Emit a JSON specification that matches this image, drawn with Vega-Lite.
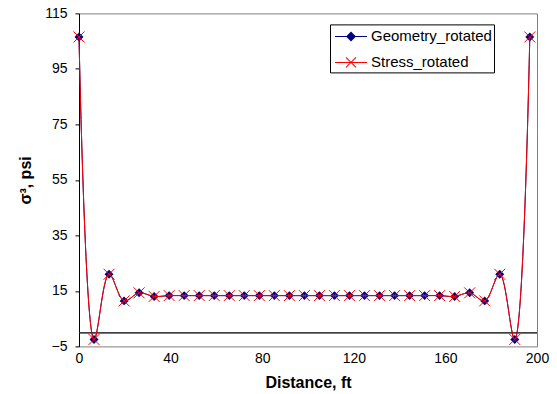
{
  "$schema": "https://vega.github.io/schema/vega-lite/v6.json",
  "width": 458,
  "height": 333,
  "autosize": "none",
  "padding": {"left": 79, "top": 13.4, "right": 20, "bottom": 47.6},
  "background": "white",
  "config": {
    "view": {"stroke": "#808080", "strokeWidth": 1},
    "font": "Liberation Sans",
    "axis": {"grid": false, "labelFont": "Liberation Sans", "labelFontSize": 14, "labelColor": "black", "titleFont": "Liberation Sans", "titleFontSize": 16, "titleFontWeight": "bold", "titleColor": "black", "domainColor": "black", "tickColor": "black"}
  },
  "data": {
    "values": [
      {"d": 0, "series": "Geometry_rotated", "v": 106.5},
      {"d": 6.56, "series": "Geometry_rotated", "v": -2.5},
      {"d": 13.12, "series": "Geometry_rotated", "v": 21.0},
      {"d": 19.69, "series": "Geometry_rotated", "v": 11.4},
      {"d": 26.25, "series": "Geometry_rotated", "v": 14.3},
      {"d": 32.81, "series": "Geometry_rotated", "v": 13.0},
      {"d": 39.37, "series": "Geometry_rotated", "v": 13.3},
      {"d": 45.93, "series": "Geometry_rotated", "v": 13.3},
      {"d": 52.49, "series": "Geometry_rotated", "v": 13.3},
      {"d": 59.06, "series": "Geometry_rotated", "v": 13.3},
      {"d": 65.62, "series": "Geometry_rotated", "v": 13.3},
      {"d": 72.18, "series": "Geometry_rotated", "v": 13.3},
      {"d": 78.74, "series": "Geometry_rotated", "v": 13.3},
      {"d": 85.3, "series": "Geometry_rotated", "v": 13.3},
      {"d": 91.86, "series": "Geometry_rotated", "v": 13.3},
      {"d": 98.43, "series": "Geometry_rotated", "v": 13.3},
      {"d": 104.99, "series": "Geometry_rotated", "v": 13.3},
      {"d": 111.55, "series": "Geometry_rotated", "v": 13.3},
      {"d": 118.11, "series": "Geometry_rotated", "v": 13.3},
      {"d": 124.67, "series": "Geometry_rotated", "v": 13.3},
      {"d": 131.23, "series": "Geometry_rotated", "v": 13.3},
      {"d": 137.8, "series": "Geometry_rotated", "v": 13.3},
      {"d": 144.36, "series": "Geometry_rotated", "v": 13.3},
      {"d": 150.92, "series": "Geometry_rotated", "v": 13.3},
      {"d": 157.48, "series": "Geometry_rotated", "v": 13.3},
      {"d": 164.04, "series": "Geometry_rotated", "v": 13.0},
      {"d": 170.6, "series": "Geometry_rotated", "v": 14.3},
      {"d": 177.17, "series": "Geometry_rotated", "v": 11.4},
      {"d": 183.73, "series": "Geometry_rotated", "v": 21.0},
      {"d": 190.29, "series": "Geometry_rotated", "v": -2.5},
      {"d": 196.85, "series": "Geometry_rotated", "v": 106.5},
      {"d": 0, "series": "Stress_rotated", "v": 106.5},
      {"d": 6.56, "series": "Stress_rotated", "v": -2.5},
      {"d": 13.12, "series": "Stress_rotated", "v": 21.0},
      {"d": 19.69, "series": "Stress_rotated", "v": 11.4},
      {"d": 26.25, "series": "Stress_rotated", "v": 14.3},
      {"d": 32.81, "series": "Stress_rotated", "v": 13.0},
      {"d": 39.37, "series": "Stress_rotated", "v": 13.3},
      {"d": 45.93, "series": "Stress_rotated", "v": 13.3},
      {"d": 52.49, "series": "Stress_rotated", "v": 13.3},
      {"d": 59.06, "series": "Stress_rotated", "v": 13.3},
      {"d": 65.62, "series": "Stress_rotated", "v": 13.3},
      {"d": 72.18, "series": "Stress_rotated", "v": 13.3},
      {"d": 78.74, "series": "Stress_rotated", "v": 13.3},
      {"d": 85.3, "series": "Stress_rotated", "v": 13.3},
      {"d": 91.86, "series": "Stress_rotated", "v": 13.3},
      {"d": 98.43, "series": "Stress_rotated", "v": 13.3},
      {"d": 104.99, "series": "Stress_rotated", "v": 13.3},
      {"d": 111.55, "series": "Stress_rotated", "v": 13.3},
      {"d": 118.11, "series": "Stress_rotated", "v": 13.3},
      {"d": 124.67, "series": "Stress_rotated", "v": 13.3},
      {"d": 131.23, "series": "Stress_rotated", "v": 13.3},
      {"d": 137.8, "series": "Stress_rotated", "v": 13.3},
      {"d": 144.36, "series": "Stress_rotated", "v": 13.3},
      {"d": 150.92, "series": "Stress_rotated", "v": 13.3},
      {"d": 157.48, "series": "Stress_rotated", "v": 13.3},
      {"d": 164.04, "series": "Stress_rotated", "v": 13.0},
      {"d": 170.6, "series": "Stress_rotated", "v": 14.3},
      {"d": 177.17, "series": "Stress_rotated", "v": 11.4},
      {"d": 183.73, "series": "Stress_rotated", "v": 21.0},
      {"d": 190.29, "series": "Stress_rotated", "v": -2.5},
      {"d": 196.85, "series": "Stress_rotated", "v": 106.5}
    ]
  },
  "encoding": {
    "x": {"field": "d", "type": "quantitative", "scale": {"domain": [0, 200], "nice": false, "zero": false},
      "axis": {"title": "Distance, ft", "values": [0, 40, 80, 120, 160, 200], "domain": false, "ticks": false, "labelPadding": 5, "titlePadding": 9, "labelFlush": false}},
    "y": {"field": "v", "type": "quantitative", "scale": {"domain": [-5, 115], "nice": false, "zero": false},
      "axis": {"title": "σ³, psi", "values": [-5, 15, 35, 55, 75, 95, 115], "tickSize": 4, "labelPadding": 8, "titlePadding": 11, "labelFlush": false}}
  },
  "layer": [
    {
      "mark": {"type": "rule", "color": "#404040", "strokeWidth": 1},
      "encoding": {"x": null, "y": {"datum": 0}}
    },
    {
      "data": {"values": [{"d": 40}, {"d": 80}, {"d": 120}, {"d": 160}, {"d": 200}]},
      "mark": {"type": "rule", "color": "black", "strokeWidth": 1},
      "encoding": {"y": {"datum": 0}, "y2": {"datum": 1.5}}
    },
    {
      "transform": [{"filter": "datum.series == 'Geometry_rotated'"}],
      "mark": {"type": "line", "interpolate": "catmull-rom", "color": "#000080", "strokeWidth": 1}
    },
    {
      "transform": [{"filter": "datum.series == 'Geometry_rotated'"}],
      "mark": {"type": "point", "shape": "diamond", "filled": true, "color": "#000080", "size": 80, "opacity": 1}
    },
    {
      "transform": [{"filter": "datum.series == 'Stress_rotated'"}],
      "mark": {"type": "line", "interpolate": "catmull-rom", "color": "#FF0000", "strokeWidth": 1}
    },
    {
      "transform": [{"filter": "datum.series == 'Stress_rotated'"}],
      "mark": {"type": "point", "shape": "M-1,-1L1,1M-1,1L1,-1", "filled": false, "color": "#FF0000", "size": 120, "strokeWidth": 1, "opacity": 1}
    },
    {
      "mark": {"type": "point", "filled": true, "opacity": 0, "size": 400, "strokeWidth": 0},
      "encoding": {
        "shape": {"field": "series", "type": "nominal",
          "scale": {"domain": ["Geometry_rotated", "Stress_rotated"], "range": [
            "M-0.7,-0.05L2.5,-0.05L2.5,0.05L-0.7,0.05Z M0.9,-0.5L1.4,0L0.9,0.5L0.4,0Z",
            "M-0.7,-0.05L2.5,-0.05L2.5,0.05L-0.7,0.05Z M0.435,-0.535L1.435,0.465L1.365,0.535L0.365,-0.465Z M0.365,0.465L1.365,-0.535L1.435,-0.465L0.435,0.535Z"]},
          "legend": {"title": null, "orient": "none", "legendX": 251, "legendY": 11, "strokeColor": "black", "fillColor": "white", "padding": 2, "labelFont": "Liberation Sans", "labelFontSize": 15, "labelColor": "black", "symbolSize": 400, "symbolOpacity": 1, "symbolStrokeWidth": 0, "labelOffset": 19, "rowPadding": 8}},
        "fill": {"field": "series", "type": "nominal",
          "scale": {"domain": ["Geometry_rotated", "Stress_rotated"], "range": ["#000080", "#FF0000"]},
          "legend": {"title": null, "orient": "none", "legendX": 251, "legendY": 11, "strokeColor": "black", "fillColor": "white", "padding": 2, "labelFont": "Liberation Sans", "labelFontSize": 15, "labelColor": "black", "symbolSize": 400, "symbolOpacity": 1, "symbolStrokeWidth": 0, "labelOffset": 19, "rowPadding": 8}}
      }
    }
  ]
}
